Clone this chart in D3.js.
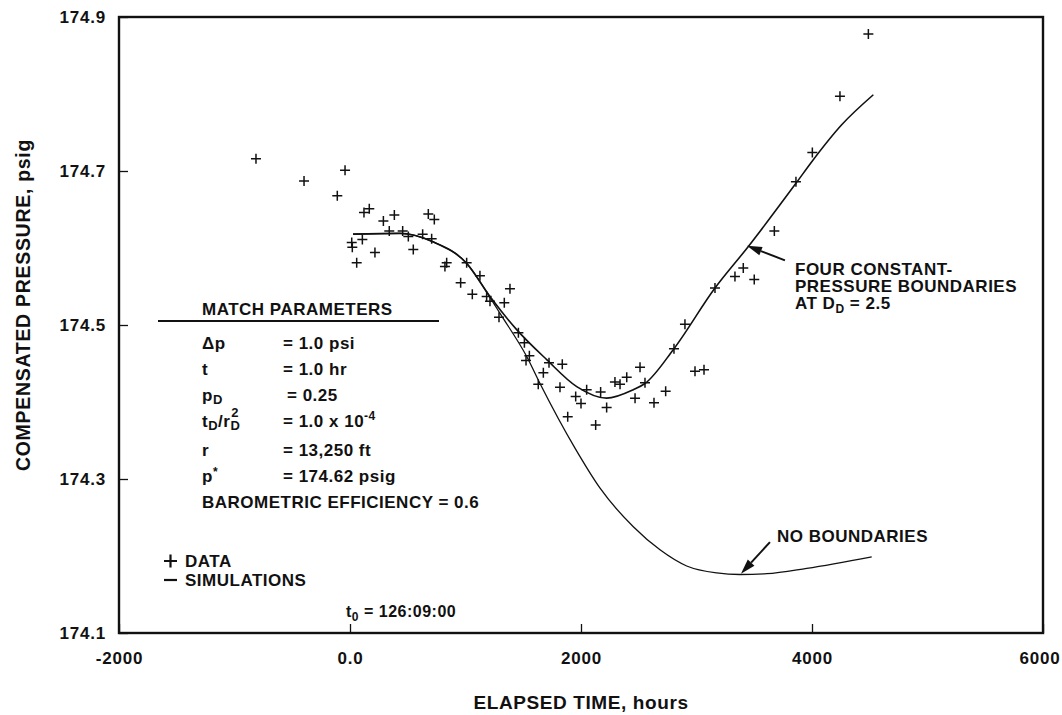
<!DOCTYPE html>
<html>
<head>
<meta charset="utf-8">
<script src="https://cdn.jsdelivr.net/npm/d3@7"></script>
<style>
  html, body { margin: 0; padding: 0; background: #fff; }
  svg { display: block; }
  text { font-family: "Liberation Sans", Arial, Helvetica, sans-serif; font-weight: bold; fill: #111; }
</style>
</head>
<body>
<svg id="chart" width="1062" height="715"></svg>
<script>
// ---------------- data ----------------
const xTicks = [-2000, 0, 2000, 4000, 6000];
const xTickLabels = ["-2000", "0.0", "2000", "4000", "6000"];
const yTicks = [174.1, 174.3, 174.5, 174.7, 174.9];
const yTickLabels = ["174.1", "174.3", "174.5", "174.7", "174.9"];

// measured data (elapsed time, hours / compensated pressure, psig)
const dataTime = [-814, -398, -43, -110, 15, 20, 58, 107, 121, 167, 216, 289, 340, 384, 456, 505, 548, 629, 678, 730, 707,
  822, 837, 1010, 958, 1059, 1125, 1183, 1212, 1336, 1385, 1290,
  1458, 1510, 1553, 1524, 1674, 1723, 1838, 1630, 1818, 1954, 2000, 1885, 2049, 2170, 2127, 2222, 2294, 2338, 2396,
  2511, 2554, 2468, 2632, 2733, 2805, 2900, 2987, 3065, 3160, 3333, 3405, 3500, 3674, 3861, 4003, 4242, 4488];
const dataPressure = [174.716, 174.687, 174.701, 174.668, 174.607, 174.601, 174.581, 174.611, 174.646, 174.651, 174.594,
  174.635, 174.622, 174.643, 174.622, 174.615, 174.598, 174.618, 174.644, 174.637, 174.612,
  174.576, 174.581, 174.581, 174.555, 174.540, 174.564, 174.537, 174.531, 174.529, 174.547, 174.510,
  174.490, 174.477, 174.460, 174.454, 174.438, 174.451, 174.449, 174.423, 174.419, 174.407, 174.398, 174.381, 174.416,
  174.413, 174.370, 174.393, 174.426, 174.423, 174.432, 174.445, 174.425, 174.405, 174.399, 174.414, 174.469, 174.501,
  174.440, 174.442, 174.548, 174.563, 174.574, 174.559, 174.622, 174.686, 174.724, 174.797, 174.878];

// simulation: four constant-pressure boundaries at D_D = 2.5
const boundTime = [26, 433, 719, 1010, 1212, 1443, 1703, 1963, 2222, 2453, 2554, 2799, 3160, 3449, 3861, 4003, 4257, 4531];
const boundPressure = [174.618, 174.619, 174.608, 174.580, 174.537, 174.494, 174.455, 174.420, 174.405, 174.416, 174.424,
  174.468, 174.548, 174.602, 174.684, 174.713, 174.760, 174.799];

// simulation: no boundaries
const noBoundTime = [26, 433, 719, 1010, 1212, 1299, 1530, 1645, 1948, 2165, 2453, 2684, 2915, 3175, 3376, 3607, 3954, 4517];
const noBoundPressure = [174.618, 174.619, 174.608, 174.580, 174.536, 174.515, 174.459, 174.424, 174.340, 174.288, 174.238,
  174.208, 174.187, 174.178, 174.176, 174.177, 174.184, 174.199];

// ---------------- layout ----------------
const svg = d3.select("#chart");
const x = d3.scaleLinear().domain([-2000, 6000]).range([119, 1043]);
const y = d3.scaleLinear().domain([174.1, 174.9]).range([633, 17]);
const ink = "#111";

// frame
svg.append("rect")
  .attr("x", x(-2000)).attr("y", y(174.9))
  .attr("width", x(6000) - x(-2000)).attr("height", y(174.1) - y(174.9))
  .attr("fill", "none").attr("stroke", ink).attr("stroke-width", 2.4);

// x axis (ticks pointing inward)
const xAxis = d3.axisBottom(x).tickValues(xTicks).tickSizeInner(-9).tickSizeOuter(0)
  .tickFormat((d, i) => xTickLabels[i]).tickPadding(19);
const gx = svg.append("g").attr("transform", `translate(0,${y(174.1)})`).call(xAxis);
gx.select(".domain").remove();
gx.selectAll("line").attr("stroke", ink).attr("stroke-width", 1.3);
gx.selectAll("text").attr("font-size", 17).attr("letter-spacing", 0.8).attr("fill", ink)
  .attr("font-family", "Liberation Sans, Arial, sans-serif").attr("font-weight", "bold");
gx.selectAll(".tick").filter(d => d === 6000).select("text").attr("text-anchor", "end").attr("x", 17);

// y axis (ticks pointing inward)
const yAxis = d3.axisLeft(y).tickValues(yTicks).tickSizeInner(-9).tickSizeOuter(0)
  .tickFormat((d, i) => yTickLabels[i]).tickPadding(13);
const gy = svg.append("g").attr("transform", `translate(${x(-2000)},0)`).call(yAxis);
gy.select(".domain").remove();
gy.selectAll("line").attr("stroke", ink).attr("stroke-width", 1.3);
gy.selectAll("text").attr("font-size", 17).attr("letter-spacing", 0.8).attr("fill", ink)
  .attr("font-family", "Liberation Sans, Arial, sans-serif").attr("font-weight", "bold");

// axis titles
svg.append("text").attr("x", 581).attr("y", 709).attr("text-anchor", "middle")
  .attr("font-size", 19).attr("letter-spacing", 0.6).text("ELAPSED TIME, hours");
svg.append("text").attr("transform", "translate(30,305) rotate(-90)").attr("text-anchor", "middle")
  .attr("font-size", 19.5).attr("letter-spacing", 0.7).text("COMPENSATED PRESSURE, psig");

// simulation curves
const line = d3.line().x(d => x(d[0])).y(d => y(d[1])).curve(d3.curveMonotoneX);
svg.append("path").datum(noBoundTime.map((t, i) => [t, noBoundPressure[i]]))
  .attr("d", line).attr("fill", "none").attr("stroke", ink).attr("stroke-width", 1.3);
svg.append("path").datum(boundTime.map((t, i) => [t, boundPressure[i]]))
  .attr("d", line).attr("fill", "none").attr("stroke", ink).attr("stroke-width", 1.6);

// data markers
svg.append("g").selectAll("path").data(dataTime.map((t, i) => [t, dataPressure[i]])).join("path")
  .attr("transform", d => `translate(${x(d[0])},${y(d[1])})`)
  .attr("d", "M-5,0H5M0,-5V5").attr("stroke", ink).attr("stroke-width", 1.5).attr("fill", "none");

// arrows
function arrow(x0, y0, x1, y1) {
  const px0 = x(x0), py0 = y(y0), px1 = x(x1), py1 = y(y1);
  const ang = Math.atan2(py1 - py0, px1 - px0);
  const L = 15, W = 4.5;
  const bx = px1 - L * Math.cos(ang), by = py1 - L * Math.sin(ang);
  svg.append("line").attr("x1", px0).attr("y1", py0).attr("x2", bx).attr("y2", by)
    .attr("stroke", ink).attr("stroke-width", 2);
  svg.append("path").attr("d",
    `M${px1},${py1}L${bx + W * Math.sin(ang)},${by - W * Math.cos(ang)}L${bx - W * Math.sin(ang)},${by + W * Math.cos(ang)}Z`)
    .attr("fill", ink);
}
arrow(3766, 174.584, 3437, 174.603);
arrow(3636, 174.218, 3385, 174.177);

// annotation: four constant-pressure boundaries
const ann = svg.append("g").attr("font-size", 17).attr("letter-spacing", 0.5);
ann.append("text").attr("x", 795).attr("y", 275).text("FOUR CONSTANT-");
ann.append("text").attr("x", 795).attr("y", 292).text("PRESSURE BOUNDARIES");
const at = ann.append("text").attr("x", 795).attr("y", 309);
at.append("tspan").text("AT D");
at.append("tspan").attr("font-size", 12).attr("dy", 4).text("D");
at.append("tspan").attr("dy", -4).text(" = 2.5");
ann.append("text").attr("x", 777).attr("y", 542).text("NO BOUNDARIES");

// match parameters block
const mp = svg.append("g").attr("font-size", 17).attr("letter-spacing", 0.5);
mp.append("text").attr("x", 202).attr("y", 315).text("MATCH PARAMETERS");
svg.append("line").attr("x1", 158).attr("x2", 439).attr("y1", 321).attr("y2", 321)
  .attr("stroke", ink).attr("stroke-width", 2);

const labX = 202, valX = 283;
// Δp
mp.append("text").attr("x", labX).attr("y", 349).text("\u0394p");
mp.append("text").attr("x", valX).attr("y", 349).text("= 1.0 psi");
// t
mp.append("text").attr("x", labX).attr("y", 375).text("t");
mp.append("text").attr("x", valX).attr("y", 375).text("= 1.0 hr");
// pD
const pd = mp.append("text").attr("x", labX).attr("y", 401);
pd.append("tspan").text("p");
pd.append("tspan").attr("font-size", 13).attr("dy", 3).text("D");
mp.append("text").attr("x", valX + 4).attr("y", 401).text("= 0.25");
// tD/rD^2 (superscript 2 stacked over subscript D)
const tr = mp.append("text").attr("x", labX).attr("y", 427);
tr.append("tspan").text("t");
tr.append("tspan").attr("font-size", 13).attr("dy", 3).text("D");
tr.append("tspan").attr("dy", -3).text("/r");
tr.append("tspan").attr("font-size", 13).attr("dy", 3).text("D");
tr.append("tspan").attr("font-size", 13).attr("dx", -9).attr("dy", -13).text("2");
const tv = mp.append("text").attr("x", valX).attr("y", 427);
tv.append("tspan").text("= 1.0 x 10");
tv.append("tspan").attr("font-size", 12).attr("dy", -7).text("-4");
// r
mp.append("text").attr("x", labX).attr("y", 456).text("r");
mp.append("text").attr("x", valX).attr("y", 456).text("= 13,250 ft");
// p*
const ps = mp.append("text").attr("x", labX).attr("y", 482);
ps.append("tspan").text("p");
ps.append("tspan").attr("font-size", 12).attr("dy", -6).text("*");
mp.append("text").attr("x", valX).attr("y", 482).text("= 174.62 psig");
// barometric efficiency
mp.append("text").attr("x", labX).attr("y", 508).text("BAROMETRIC EFFICIENCY = 0.6");

// legend
const lg = svg.append("g").attr("font-size", 17).attr("letter-spacing", 0.5);
svg.append("path").attr("d", "M164,561H177M170.5,554.5V567.5").attr("stroke", ink).attr("stroke-width", 2.2);
lg.append("text").attr("x", 185).attr("y", 567).text("DATA");
svg.append("line").attr("x1", 164).attr("x2", 177).attr("y1", 580).attr("y2", 580).attr("stroke", ink).attr("stroke-width", 2.2);
lg.append("text").attr("x", 185).attr("y", 586).text("SIMULATIONS");

// t0 label
const t0 = svg.append("text").attr("x", 346).attr("y", 617).attr("font-size", 16).attr("letter-spacing", 0.5);
t0.append("tspan").text("t");
t0.append("tspan").attr("font-size", 12).attr("dy", 4).text("0");
t0.append("tspan").attr("dy", -4).text(" = 126:09:00");
</script>
</body>
</html>
